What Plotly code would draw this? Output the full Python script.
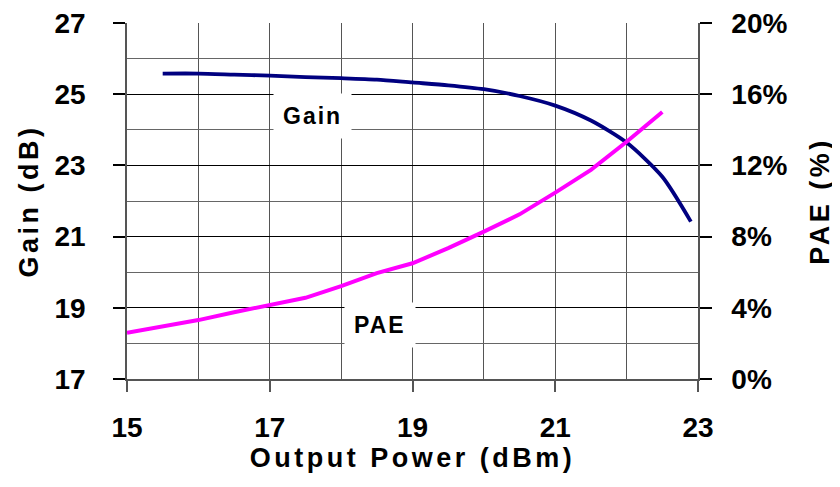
import plotly.graph_objects as go

# Gain vs output power (left axis, dB)
gain_pout = [15.5, 16, 16.5, 17, 17.5, 18, 18.5, 19, 19.5, 20, 20.5, 21, 21.5, 22, 22.5, 22.9]
gain_db = [25.58, 25.58, 25.55, 25.52, 25.48, 25.45, 25.41, 25.33, 25.25, 25.14,
           24.95, 24.68, 24.26, 23.64, 22.68, 21.42]

# PAE vs output power (right axis, %)
pae_pout = [15, 15.5, 16, 16.5, 17, 17.5, 18, 18.5, 19, 19.5, 20, 20.5, 21, 21.5, 22, 22.5]
pae_pct = [2.6, 2.95, 3.31, 3.75, 4.16, 4.56, 5.22, 5.95, 6.5, 7.35, 8.28, 9.25,
           10.47, 11.75, 13.33, 15.0]

FONT = 'Liberation Sans, Arial, sans-serif'


def spaced(txt, px=3):
    return f'<span style="letter-spacing:{px}px">{txt}</span>'


fig = go.Figure()
fig.add_trace(go.Scatter(x=gain_pout, y=gain_db, mode='lines', name='Gain',
                         line={'color': '#000080', 'width': 3.8, 'shape': 'spline',
                               'smoothing': 0.7}))
fig.add_trace(go.Scatter(x=pae_pout, y=pae_pct, mode='lines', name='PAE', yaxis='y2',
                         line={'color': '#FF00FF', 'width': 4}))

fig.add_annotation(x=17.6, y=24.4, text=spaced('<b>Gain</b>', 2), showarrow=False,
                   bgcolor='white', borderpad=9,
                   font={'family': FONT, 'size': 23, 'color': 'black'})
fig.add_annotation(x=18.54, y=18.52, text=spaced('<b>PAE</b>', 2), showarrow=False,
                   bgcolor='white', borderpad=9,
                   font={'family': FONT, 'size': 23, 'color': 'black'})

# page body has an 8px margin, so the figure is 8px smaller and margins shifted
fig.update_layout(
    width=832, height=479,
    margin={'l': 119, 'r': 142, 't': 15, 'b': 108},
    plot_bgcolor='white',
    paper_bgcolor='white',
    showlegend=False,
    font={'family': FONT, 'color': 'black'},
    xaxis={
        'range': [15, 23], 'automargin': False,
        'tick0': 15, 'dtick': 2,
        'ticks': 'outside', 'ticklen': 11, 'tickwidth': 1.5, 'tickcolor': '#555',
        'showline': True, 'linewidth': 1.5, 'linecolor': '#555', 'mirror': False,
        'showgrid': True, 'gridcolor': '#555', 'gridwidth': 1,
        'minor': {'dtick': 1, 'showgrid': True, 'gridcolor': '#555', 'gridwidth': 1},
        'tickfont': {'size': 28, 'family': FONT},
        'ticklabelstandoff': 12, 'ticklabeloverflow': 'allow',
        'tickprefix': '<b>', 'ticksuffix': '</b>',
        'title': {'text': spaced('<b>Output Power (dBm)</b>', 3.5),
                  'font': {'size': 27, 'family': FONT}, 'standoff': 5},
        'zeroline': False,
    },
    yaxis={
        'range': [17, 27], 'automargin': False,
        'tick0': 17, 'dtick': 2,
        'ticks': 'outside', 'ticklen': 12, 'tickwidth': 1.5, 'tickcolor': 'black',
        'showline': True, 'linewidth': 1.5, 'linecolor': '#555',
        'showgrid': True, 'gridcolor': 'black', 'gridwidth': 1.2,
        'minor': {'dtick': 1, 'showgrid': True, 'gridcolor': '#666', 'gridwidth': 1},
        'tickfont': {'size': 28, 'family': FONT},
        'ticklabelstandoff': 22, 'ticklabeloverflow': 'allow',
        'tickprefix': '<b>', 'ticksuffix': '</b>',
        'title': {'text': spaced('<b>Gain (dB)</b>', 3.5),
                  'font': {'size': 27, 'family': FONT}, 'standoff': 8},
        'zeroline': False,
    },
    yaxis2={
        'range': [0, 20], 'automargin': False,
        'tick0': 0, 'dtick': 4,
        'overlaying': 'y', 'side': 'right',
        'ticks': 'outside', 'ticklen': 12, 'tickwidth': 1.5, 'tickcolor': 'black',
        'showline': True, 'linewidth': 1.5, 'linecolor': '#555',
        'showgrid': False,
        'tickfont': {'size': 28, 'family': FONT},
        'ticklabelstandoff': 14, 'ticklabeloverflow': 'allow',
        'tickprefix': '<b>', 'ticksuffix': '%</b>',
        'title': {'text': spaced('<b>PAE (%)</b>', 3.5),
                  'font': {'size': 27, 'family': FONT}, 'standoff': 24},
        'zeroline': False,
    },
)

fig.write_html('out.html')
